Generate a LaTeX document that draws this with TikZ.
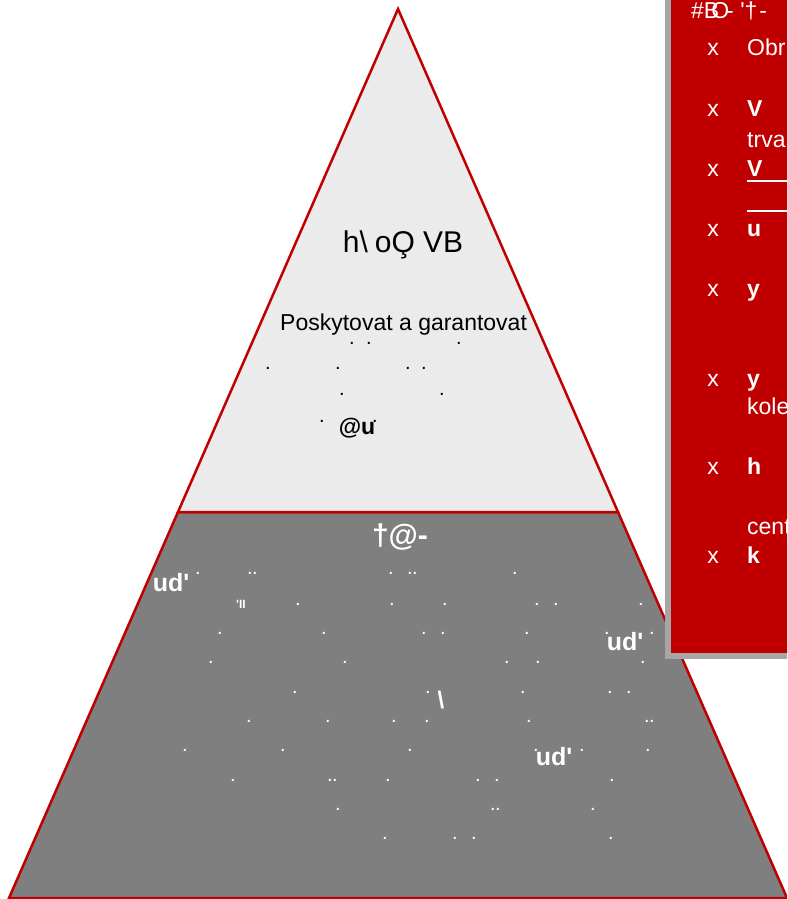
\documentclass[tikz,border=0pt]{standalone}
\usepackage{fontspec}
\setmainfont{Liberation Sans}
\usepackage{tikz}
\usetikzlibrary{positioning}
\definecolor{pyrred}{HTML}{C00000}
\definecolor{toplight}{HTML}{EBEBEB}
\definecolor{lowgray}{HTML}{7F7F7F}
\definecolor{shadegray}{HTML}{A6A6A6}
\tikzset{
  lvl/.style   = {draw=pyrred, line width=2.5pt, line join=miter},
  ttl/.style   = {font=\fontsize{30}{34}\selectfont, inner sep=0pt},
  txt/.style   = {font=\fontsize{23}{27}\selectfont, inner sep=0pt},
  btxt/.style  = {txt, text=white, text height=17pt, text depth=5pt},
  wbold/.style = {font=\fontsize{25}{28}\selectfont\bfseries, text=white, inner sep=0pt},
  bdot/.style  = {font=\fontsize{20}{20}\selectfont, inner sep=0pt},
  wdot/.style  = {bdot, text=white},
  uline/.style = {white, line width=2pt},
}

\begin{document}
\begin{tikzpicture}[x=1pt,y=-1pt]
  \useasboundingbox (0,0) rectangle (787,899);
  \clip (0,0) rectangle (787,899);
  \coordinate (apex) at (398,9);
  \coordinate (bl) at (9,898);
  \coordinate (br) at (787,898);
  \coordinate (ml) at (178,512);
  \coordinate (mr) at (618,512);
  \filldraw[lvl, fill=lowgray] (ml) -- (mr) -- (br) -- (bl) -- cycle;
  \filldraw[lvl, fill=toplight] (apex) -- (mr) -- (ml) -- cycle;

  \node[ttl] (ttl) at (403,245) {h\textbackslash\hspace{7pt}oO̧\hspace{8pt}VB};
  \node[txt, anchor=west] (pos) at (280,325) {Poskytovat a garantovat};
  \node[font=\fontsize{23}{26}\selectfont\bfseries, inner sep=0pt] (at) at (357,428) {@u};
  \foreach \x/\y [count=\i] in {352/343,369/343,459/343,268/368,338/368,408/368,424/368,
      342/394,442/394,322/421,375/421}
    \node[bdot] (bd\i) at (\x,\y) {.};

  \node[font=\fontsize{30}{32}\selectfont\bfseries, text=white, inner sep=0pt] (hd) at (400,537) {†@-};
  \node[wbold] (ud1) at (171,583) {ud\textquotesingle};
  \node[wbold] (ud2) at (625,642) {ud\textquotesingle};
  \node[wbold] (ud3) at (554,757) {ud\textquotesingle};
  \node[font=\fontsize{12}{12}\selectfont\bfseries, text=white, inner sep=0pt] (ii) at (241,604) {\textquotesingle II};
  \node[font=\fontsize{24}{26}\selectfont\bfseries, text=white, inner sep=0pt] (bs) at (441,700) {\textbackslash};
  \foreach \x/\y [count=\i] in {198/573,250/573,255/573,391/573,410/573,415/573,515/573,
      298/604,392/604,445/604,537/604,556/604,641/604,
      220/633,324/633,424/633,443/633,527/633,607/633,652/633,
      211/662,345/662,507/662,538/662,643/662,
      295/692,428/692,523/692,610/692,629/692,
      249/721,328/721,394/721,427/721,529/721,647/721,652/721,
      185/750,283/750,410/750,536/750,582/750,648/750,
      233/780,330/780,335/780,388/780,478/780,497/780,612/780,
      338/809,493/809,498/809,593/809,
      385/838,455/838,474/838,611/838}
    \node[wdot] (wd\i) at (\x,\y) {.};

  \fill[shadegray] (665,-10) rectangle (800,659);
  \fill[pyrred] (671,-10) rectangle (800,653);
  \node[btxt, anchor=west] (bt) at (691,13) {\#B\kern-8pt O\kern-3pt- \textquotesingle†\kern2pt-};
  \foreach \y [count=\i] in {50,110,170,230,290,380,468,557}
    \node[btxt] (bx\i) at (713,\y) {x};
  \node[btxt, anchor=west] (it1) at (747,50) {Obr};
  \node[btxt, anchor=west] (it2) at (747,110) {\textbf{V}};
  \node[btxt, anchor=west] (it2b) at (747,141) {trva};
  \node[btxt, anchor=west] (it3) at (747,170) {\textbf{V}};
  \node[btxt, anchor=west] (it4) at (747,230) {\textbf{u}};
  \node[btxt, anchor=west] (it5) at (747,290) {\textbf{y}};
  \node[btxt, anchor=west] (it6) at (747,380) {\textbf{y}};
  \node[btxt, anchor=west] (it6b) at (747,408) {kole};
  \node[btxt, anchor=west] (it7) at (747,468) {\textbf{h}};
  \node[btxt, anchor=west] (it7b) at (747,528) {cent};
  \node[btxt, anchor=west] (it8) at (747,557) {\textbf{k}};
  \draw[uline] (it3.west |- 0,181) -- (800,181);
  \draw[uline] (it3.west |- 0,211) -- (800,211);
\end{tikzpicture}
\end{document}
